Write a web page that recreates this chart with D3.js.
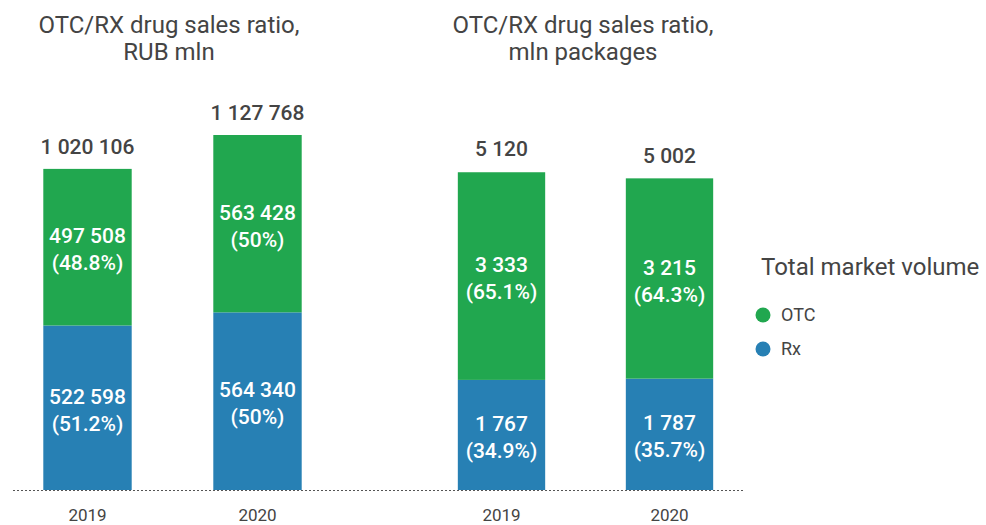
<!DOCTYPE html>
<html>
<head>
<meta charset="utf-8">
<script src="https://cdn.jsdelivr.net/npm/d3@7"></script>
<style>
  body { margin: 0; background: #fff; }
  svg { font-family: Roboto, 'Noto Sans', sans-serif; }
</style>
</head>
<body>
<svg width="986" height="525"></svg>
<script>
const svg = d3.select('svg');

const height = +svg.attr('height');
const width = +svg.attr('width');

// data
const years = ['2019', '2020'];

const rubOtc = [497508, 563428];
const rubRx = [522598, 564340];
const rubTotal = [1020106, 1127768];
const rubOtcPct = ['48.8%', '50%'];
const rubRxPct = ['51.2%', '50%'];

const pkgOtc = [3333, 3215];
const pkgRx = [1767, 1787];
const pkgTotal = [5120, 5002];
const pkgOtcPct = ['65.1%', '64.3%'];
const pkgRxPct = ['34.9%', '35.7%'];

const seriesNames = ['OTC', 'Rx'];
const colors = ['#21a74f', '#2780b4'];

const fmt = d3.formatLocale({decimal: '.', thousands: ' ', grouping: [3], currency: ['', '']}).format(',d');

const baseline = 490;
const textColor = '#444';

const panels = [
    {
        title: ['OTC/RX drug sales ratio,', 'RUB mln'],
        titleX: 169,
        range: [2.5, 342.5],
        topY: 135,
        otc: rubOtc, rx: rubRx, total: rubTotal,
        otcPct: rubOtcPct, rxPct: rubRxPct
    },
    {
        title: ['OTC/RX drug sales ratio,', 'mln packages'],
        titleX: 583,
        range: [417.5, 753.5],
        topY: 171,
        otc: pkgOtc, rx: pkgRx, total: pkgTotal,
        otcPct: pkgOtcPct, rxPct: pkgRxPct
    }
];

// dotted baseline
svg.append('line')
    .attr('x1', 13)
    .attr('x2', 745)
    .attr('y1', baseline + 0.5)
    .attr('y2', baseline + 0.5)
    .attr('stroke', '#555')
    .attr('stroke-width', 1)
    .attr('stroke-dasharray', '2,2');

const renderPanel = p => {
    const xScale = d3.scaleBand()
        .domain(years)
        .range(p.range)
        .paddingInner(0.48)
        .paddingOuter(0.24);

    const yScale = d3.scaleLinear()
        .domain([0, d3.max(p.total)])
        .range([baseline, p.topY]);

    const rows = years.map((y, i) => ({
        year: y,
        OTC: p.otc[i],
        Rx: p.rx[i],
        total: p.total[i],
        otcPct: p.otcPct[i],
        rxPct: p.rxPct[i]
    }));

    const stack = d3.stack().keys(['Rx', 'OTC'])(rows);

    const g = svg.append('g');

    // title
    g.append('text')
        .attr('x', p.titleX)
        .attr('y', 33)
        .attr('text-anchor', 'middle')
        .attr('font-size', 24)
        .attr('fill', textColor)
        .selectAll('tspan').data(p.title)
        .enter().append('tspan')
            .attr('x', p.titleX)
            .attr('dy', (d, i) => i === 0 ? 0 : 27)
            .text(d => d);

    const layers = g.selectAll('g.layer').data(stack)
        .enter().append('g')
            .attr('class', 'layer')
            .attr('fill', d => d.key === 'OTC' ? colors[0] : colors[1]);

    layers.selectAll('rect').data(d => d)
        .enter().append('rect')
            .attr('x', d => xScale(d.data.year))
            .attr('width', xScale.bandwidth())
            .attr('y', d => yScale(d[1]))
            .attr('height', d => yScale(d[0]) - yScale(d[1]));

    // inside labels
    layers.each(function(layer) {
        const isOtc = layer.key === 'OTC';
        d3.select(this).selectAll('text').data(layer)
            .enter().append('text')
                .attr('text-anchor', 'middle')
                .attr('font-size', 21)
                .attr('font-weight', 500)
                .attr('fill', '#fff')
                .each(function(d) {
                    const cx = xScale(d.data.year) + xScale.bandwidth() / 2;
                    const mid = (yScale(d[0]) + yScale(d[1])) / 2;
                    const t = d3.select(this);
                    t.append('tspan')
                        .attr('x', cx)
                        .attr('y', mid - 4)
                        .text(fmt(d.data[layer.key]));
                    t.append('tspan')
                        .attr('x', cx)
                        .attr('y', mid + 23)
                        .text('(' + (isOtc ? d.data.otcPct : d.data.rxPct) + ')');
                });
    });

    // totals
    g.selectAll('text.total').data(rows)
        .enter().append('text')
            .attr('class', 'total')
            .attr('x', d => xScale(d.year) + xScale.bandwidth() / 2)
            .attr('y', d => yScale(d.total) - 15)
            .attr('text-anchor', 'middle')
            .attr('font-size', 21)
            .attr('font-weight', 500)
            .attr('fill', textColor)
            .text(d => fmt(d.total));

    // x axis
    const xAxis = d3.axisBottom(xScale).tickSize(0).tickPadding(0);
    const xAxisG = g.append('g')
        .attr('transform', `translate(0, ${baseline})`)
        .call(xAxis);
    xAxisG.select('.domain').remove();
    xAxisG.selectAll('text')
        .attr('dy', null)
        .attr('y', 31)
        .attr('font-size', 17)
        .attr('font-family', 'Roboto, sans-serif')
        .attr('fill', textColor);
};

panels.forEach(renderPanel);

// legend
const legend = svg.append('g');
legend.append('text')
    .attr('x', 761)
    .attr('y', 275)
    .attr('font-size', 24)
    .attr('fill', textColor)
    .text('Total market volume');

const items = legend.selectAll('g.item').data(seriesNames)
    .enter().append('g')
        .attr('class', 'item')
        .attr('transform', (d, i) => `translate(763, ${315 + i * 34})`);

items.append('circle')
    .attr('r', 7.5)
    .attr('fill', (d, i) => colors[i]);

items.append('text')
    .attr('x', 18)
    .attr('y', 6)
    .attr('font-size', 18)
    .attr('fill', textColor)
    .text(d => d);
</script>
</body>
</html>
